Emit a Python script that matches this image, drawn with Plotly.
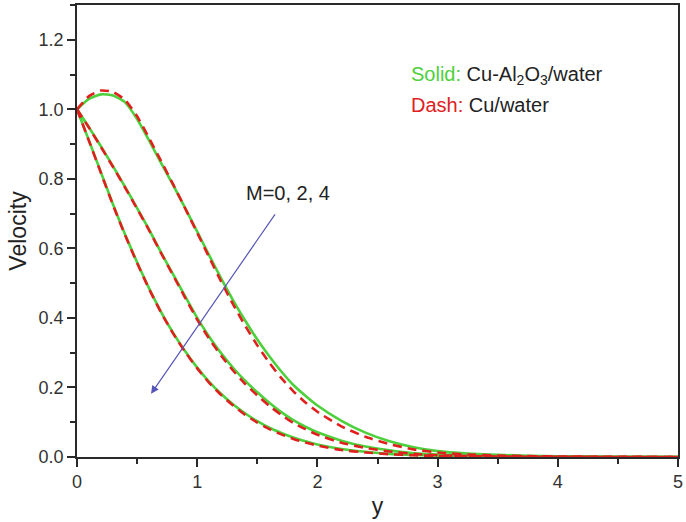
import plotly.graph_objects as go

# Similarity variable y and velocity profiles for M = 0, 2, 4
y_vals = [0, 0.1, 0.2, 0.3, 0.4, 0.5, 0.6, 0.7, 0.8, 0.9, 1.0, 1.1, 1.2, 1.3, 1.4, 1.5, 1.6, 1.7, 1.8, 1.9, 2.0,
          2.2, 2.4, 2.6, 2.8, 3.0, 3.25, 3.5, 4.0, 4.5, 5.0]

# Cu-Al2O3/water (solid lines)
hybrid_M0 = [1.000, 1.030, 1.043, 1.040, 1.020, 0.972, 0.910, 0.845, 0.782, 0.716, 0.648, 0.580, 0.513, 0.450,
             0.392, 0.338, 0.290, 0.246, 0.207, 0.176, 0.148, 0.104, 0.070, 0.045, 0.028, 0.017, 0.010, 0.006,
             0.002, 0.0007, 0.0]
hybrid_M2 = [1.000, 0.948, 0.893, 0.836, 0.777, 0.716, 0.654, 0.588, 0.525, 0.462, 0.400, 0.346, 0.298, 0.256,
             0.219, 0.186, 0.156, 0.129, 0.106, 0.087, 0.071, 0.047, 0.030, 0.019, 0.011, 0.007, 0.004, 0.002,
             0.0007, 0.0002, 0.0]
hybrid_M4 = [1.000, 0.910, 0.818, 0.726, 0.640, 0.560, 0.485, 0.417, 0.357, 0.304, 0.257, 0.216, 0.181, 0.151,
             0.125, 0.103, 0.084, 0.069, 0.056, 0.045, 0.036, 0.023, 0.015, 0.009, 0.006, 0.004, 0.002, 0.001,
             0.0003, 0.0001, 0.0]

# Cu/water (dashed lines)
mono_M0 = [1.000, 1.038, 1.054, 1.050, 1.027, 0.980, 0.917, 0.851, 0.784, 0.715, 0.645, 0.574, 0.504, 0.438,
           0.377, 0.321, 0.271, 0.227, 0.189, 0.157, 0.130, 0.088, 0.058, 0.037, 0.022, 0.013, 0.007, 0.004,
           0.0015, 0.0005, 0.0]
mono_M2 = [1.000, 0.947, 0.891, 0.834, 0.775, 0.714, 0.652, 0.586, 0.522, 0.458, 0.395, 0.340, 0.291, 0.248,
           0.210, 0.177, 0.147, 0.121, 0.098, 0.080, 0.064, 0.041, 0.026, 0.016, 0.009, 0.005, 0.003, 0.0015,
           0.0005, 0.0001, 0.0]
mono_M4 = [1.000, 0.909, 0.816, 0.724, 0.638, 0.558, 0.483, 0.415, 0.355, 0.302, 0.255, 0.213, 0.178, 0.148,
           0.121, 0.099, 0.080, 0.065, 0.052, 0.042, 0.033, 0.020, 0.013, 0.008, 0.005, 0.003, 0.0015, 0.0007,
           0.0002, 0.00005, 0.0]

x_ticks = [0, 1, 2, 3, 4, 5]
y_ticks = [0.0, 0.2, 0.4, 0.6, 0.8, 1.0, 1.2]

GREEN = "#4cd03c"
RED = "#e0201e"
FONT = "Liberation Sans, Arial, sans-serif"
INK = "#2a2a2a"

fig = go.Figure()

for prof in (hybrid_M0, hybrid_M2, hybrid_M4):
    fig.add_trace(go.Scatter(x=y_vals, y=prof, mode="lines",
                             line=dict(color=GREEN, width=2.6, shape="spline", smoothing=0.5),
                             showlegend=False, hoverinfo="skip"))
for prof in (mono_M0, mono_M2, mono_M4):
    fig.add_trace(go.Scatter(x=y_vals, y=prof, mode="lines",
                             line=dict(color=RED, width=2.6, dash="9px,6px", shape="spline", smoothing=0.5),
                             showlegend=False, hoverinfo="skip"))

# Direction of increasing magnetic parameter
fig.add_annotation(x=0.616, y=0.182, ax=1.656, ay=0.702, xref="x", yref="y", axref="x", ayref="y",
                   text="", showarrow=True, arrowhead=2, arrowsize=1.3, arrowwidth=1.2,
                   arrowcolor="#5656b8")
fig.add_annotation(x=1.757, y=0.759, xref="x", yref="y", text="M=0, 2, 4", showarrow=False,
                   xanchor="center", yanchor="middle", font=dict(family=FONT, size=20, color="#222222"))

# Line-style key
fig.add_annotation(x=2.764, y=1.098, xref="x", yref="y", showarrow=False, xanchor="left", yanchor="middle",
                   text=f"<span style='color:{GREEN}'>Solid:</span> Cu-Al<sub>2</sub>O<sub>3</sub>/water",
                   font=dict(family=FONT, size=20, color="#222222"))
fig.add_annotation(x=2.764, y=1.012, xref="x", yref="y", showarrow=False, xanchor="left", yanchor="middle",
                   text=f"<span style='color:{RED}'>Dash:</span> Cu/water",
                   font=dict(family=FONT, size=20, color="#222222"))

axis_common = dict(showline=True, linecolor=INK, linewidth=1.6, mirror=True, showgrid=False,
                   zeroline=False, ticks="outside", ticklen=8, tickwidth=1.5, tickcolor=INK,
                   ticklabeloverflow="allow",
                   tickfont=dict(family=FONT, size=18, color="#333333"))

fig.update_xaxes(range=[0, 5], tickvals=x_ticks, ticktext=[str(v) for v in x_ticks],
                 minor=dict(dtick=0.5, tick0=0, ticks="outside", ticklen=5, tickwidth=1.5, tickcolor=INK),
                 title=dict(text="y", font=dict(family=FONT, size=23, color="#222222"), standoff=6),
                 **axis_common)
fig.update_yaxes(range=[0, 1.3], tickvals=y_ticks, ticktext=[f"{v:.1f}" for v in y_ticks],
                 minor=dict(dtick=0.1, tick0=0, ticks="outside", ticklen=5, tickwidth=1.5, tickcolor=INK),
                 title=dict(text="Velocity", font=dict(family=FONT, size=23, color="#222222"), standoff=6),
                 **axis_common)

fig.update_layout(width=686, height=522, margin=dict(l=77, r=3, t=5, b=65),
                  paper_bgcolor="white", plot_bgcolor="white")

fig.write_html("out.html")
